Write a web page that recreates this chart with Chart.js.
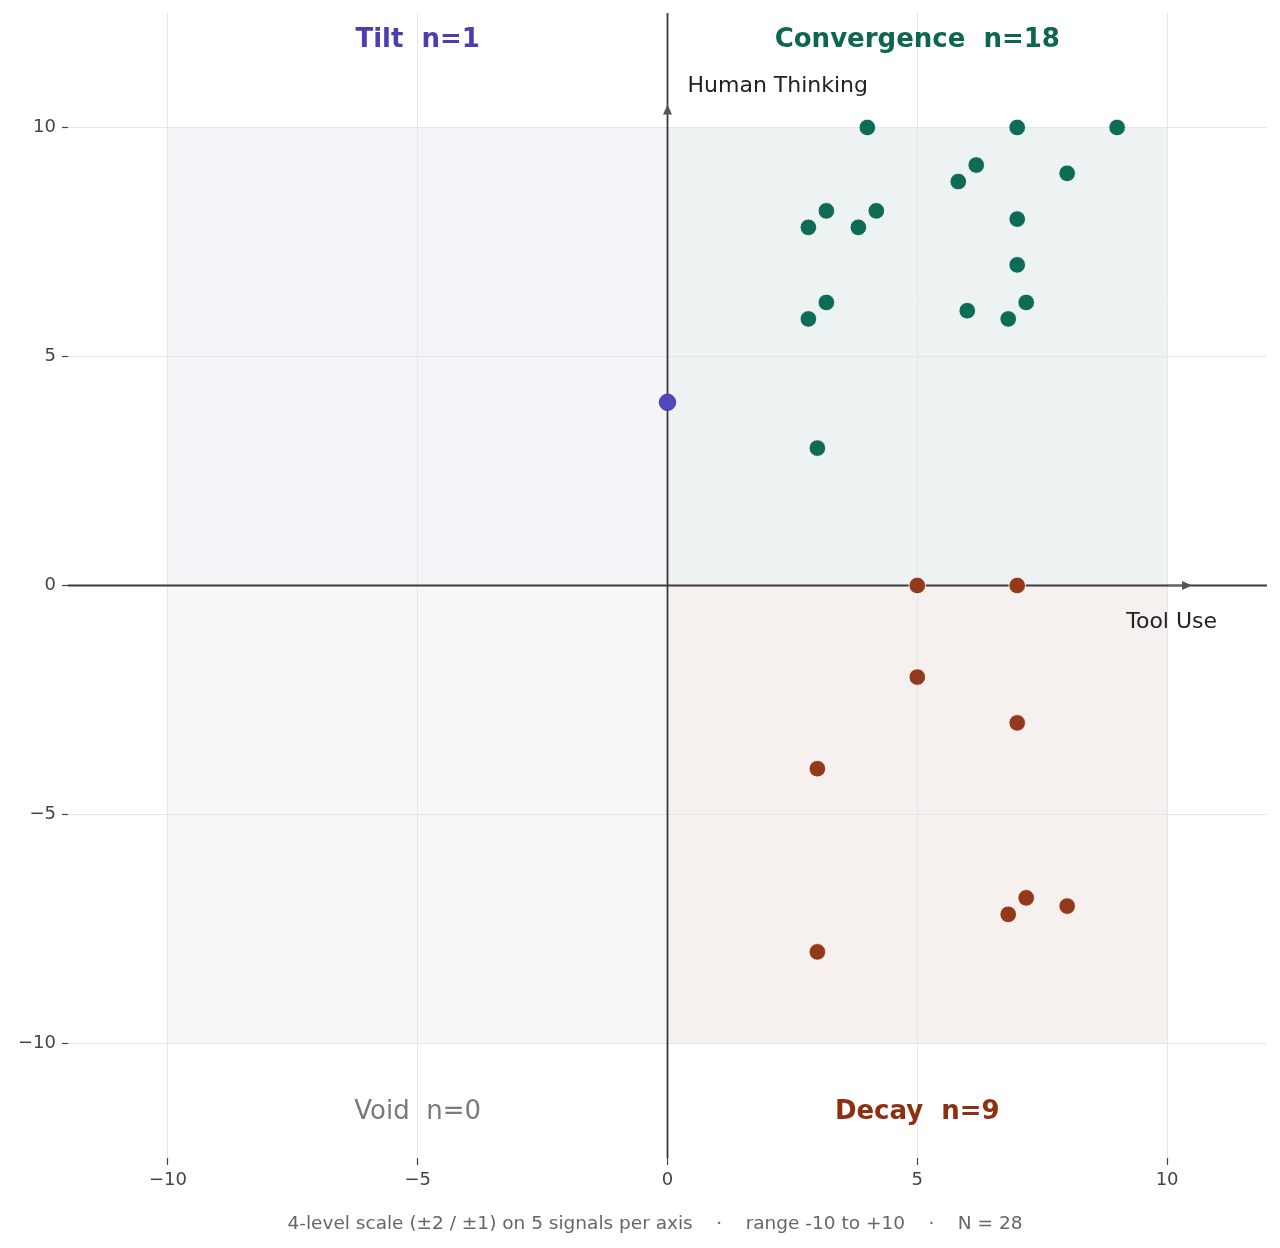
<!DOCTYPE html>
<html>
<head>
<meta charset="utf-8">
<script src="https://cdn.jsdelivr.net/npm/chart.js@4.4.1/dist/chart.umd.min.js"></script>
<style>
  html, body { margin: 0; padding: 0; background: #fff; }
  #wrap { width: 1280px; height: 1248px; position: relative; }
</style>
</head>
<body>
<div id="wrap"><canvas id="myChart"></canvas></div>
<script>
// x = tool use score, y = human thinking score (small jitter on duplicates)
const convergenceX = [4, 7, 9, 6.18, 5.82, 8, 3.18, 2.82, 4.18, 3.82, 7, 7, 3.18, 2.82, 6, 7.18, 6.82, 3];
const convergenceY = [10, 10, 10, 9.18, 8.82, 9, 8.18, 7.82, 8.18, 7.82, 8, 7, 6.18, 5.82, 6, 6.18, 5.82, 3];
const tiltX = [0];
const tiltY = [4];
const decayX = [5, 7, 5, 7, 3, 7.18, 6.82, 8, 3];
const decayY = [0, 0, -2, -3, -4, -6.82, -7.18, -7, -8];

const quadrantNames = ['Convergence', 'Tilt', 'Void', 'Decay'];
const quadrantCounts = [18, 1, 0, 9];
const tickValues = [-10, -5, 0, 5, 10];
const xAxisLabel = 'Tool Use';
const yAxisLabel = 'Human Thinking';
const footerText = '4-level scale (\u00b12 / \u00b11) on 5 signals per axis    \u00b7    range -10 to +10    \u00b7    N = 28';

const FONT = '"DejaVu Sans", Verdana, sans-serif';

const toPoints = (xs, ys) => xs.map((v, i) => ({ x: v, y: ys[i] }));

// quadrant backgrounds, axis lines with arrows, and all the annotation text
const quadrantPlugin = {
  id: 'quadrants',
  beforeDraw(chart) {
    const { ctx, scales: { x, y } } = chart;
    ctx.save();
    ctx.fillStyle = '#ffffff';
    ctx.fillRect(0, 0, chart.width, chart.height);
    const boxes = [
      [0, 10, 0, 10, '#ecf3f2'],
      [-10, 0, 0, 10, '#f4f4f9'],
      [-10, 0, -10, 0, '#f7f7f7'],
      [0, 10, -10, 0, '#f6f1ef']
    ];
    boxes.forEach(([x0, x1, y0, y1, c]) => {
      const l = x.getPixelForValue(x0), r = x.getPixelForValue(x1);
      const t = y.getPixelForValue(y1), b = y.getPixelForValue(y0);
      ctx.fillStyle = c;
      ctx.fillRect(l, t, r - l, b - t);
    });
    ctx.restore();
  },
  beforeDatasetsDraw(chart) {
    const { ctx, chartArea, scales: { x, y } } = chart;
    const x0 = x.getPixelForValue(0), y0 = y.getPixelForValue(0);
    ctx.save();
    ctx.strokeStyle = '#3a3a3a';
    ctx.lineWidth = 1.8;
    ctx.beginPath();
    ctx.moveTo(x0, chartArea.top);
    ctx.lineTo(x0, chartArea.bottom);
    ctx.moveTo(chartArea.left, y0);
    ctx.lineTo(chartArea.right, y0);
    ctx.stroke();

    // arrow heads
    ctx.fillStyle = '#555555';
    const ty = y.getPixelForValue(10.5);
    ctx.beginPath();
    ctx.moveTo(x0, ty);
    ctx.lineTo(x0 - 4.5, ty + 10);
    ctx.lineTo(x0 + 4.5, ty + 10);
    ctx.closePath();
    ctx.fill();
    const tx = x.getPixelForValue(10.5);
    ctx.strokeStyle = '#666666';
    ctx.lineWidth = 1.8;
    ctx.beginPath();
    ctx.moveTo(x.getPixelForValue(10), y0);
    ctx.lineTo(tx - 8, y0);
    ctx.stroke();
    ctx.beginPath();
    ctx.moveTo(tx, y0);
    ctx.lineTo(tx - 10, y0 - 4.5);
    ctx.lineTo(tx - 10, y0 + 4.5);
    ctx.closePath();
    ctx.fill();

    // axis captions
    ctx.fillStyle = '#222222';
    ctx.font = '22px ' + FONT;
    ctx.textBaseline = 'middle';
    ctx.textAlign = 'left';
    ctx.fillText(yAxisLabel, x.getPixelForValue(0.4), y.getPixelForValue(10.9));
    ctx.textAlign = 'right';
    ctx.fillText(xAxisLabel, x.getPixelForValue(11), y.getPixelForValue(-0.8));

    // quadrant titles
    const spots = [
      [5, 11.9, '#0c6650', 'bold'],
      [-5, 11.9, '#4a3fb0', 'bold'],
      [-5, -11.5, '#7a7a7a', 'normal'],
      [5, -11.5, '#8f2f12', 'bold']
    ];
    ctx.textAlign = 'center';
    spots.forEach(([vx, vy, c, w], i) => {
      ctx.fillStyle = c;
      ctx.font = w + ' 26px ' + FONT;
      ctx.fillText(quadrantNames[i] + '  n=' + quadrantCounts[i], x.getPixelForValue(vx), y.getPixelForValue(vy));
    });

    // footer note
    ctx.fillStyle = '#666666';
    ctx.font = '18.5px ' + FONT;
    ctx.fillText(footerText, 655, 1224);
    ctx.restore();
  }
};

const tickSetup = (scale) => {
  scale.ticks = tickValues.map(v => ({ value: v }));
};
const fmt = (v) => (v < 0 ? '\u2212' + Math.abs(v) : '' + v);

const config = {
  type: 'scatter',
  data: {
    datasets: [
      {
        label: quadrantNames[0],
        data: toPoints(convergenceX, convergenceY),
        backgroundColor: '#0e6b55',
        borderColor: '#ffffff',
        borderWidth: 0.8,
        pointRadius: 8.3
      },
      {
        label: quadrantNames[1],
        data: toPoints(tiltX, tiltY),
        backgroundColor: '#5147bd',
        borderColor: '#3d3596',
        borderWidth: 0.8,
        pointRadius: 8.3
      },
      {
        label: quadrantNames[3],
        data: toPoints(decayX, decayY),
        backgroundColor: '#933a1c',
        borderColor: '#ffffff',
        borderWidth: 0.8,
        pointRadius: 8.3
      }
    ]
  },
  options: {
    responsive: true,
    maintainAspectRatio: false,
    animation: false,
    events: [],
    layout: { padding: { top: 13, right: 13, bottom: 40, left: 0 } },
    plugins: { legend: { display: false }, tooltip: { enabled: false } },
    scales: {
      x: {
        type: 'linear',
        min: -12,
        max: 12,
        afterBuildTicks: tickSetup,
        afterFit: (s) => { s.height = 50; },
        border: { display: false },
        grid: { color: '#e6e6e6', lineWidth: 1, tickLength: 7, tickColor: '#444444', tickWidth: 1.2 },
        ticks: { color: '#444444', font: { family: FONT, size: 18 }, padding: 5, callback: fmt, maxRotation: 0 }
      },
      y: {
        type: 'linear',
        min: -12.5,
        max: 12.5,
        afterBuildTicks: tickSetup,
        afterFit: (s) => { s.width = 68; s.paddingTop = 0; s.paddingBottom = 0; },
        border: { display: false },
        grid: { color: '#e6e6e6', lineWidth: 1, tickLength: 6, tickColor: '#444444', tickWidth: 1.2 },
        ticks: { color: '#444444', font: { family: FONT, size: 18 }, padding: 6, callback: fmt }
      }
    }
  },
  plugins: [quadrantPlugin]
};

var myChart = new Chart(document.getElementById('myChart'), config);
</script>
</body>
</html>
